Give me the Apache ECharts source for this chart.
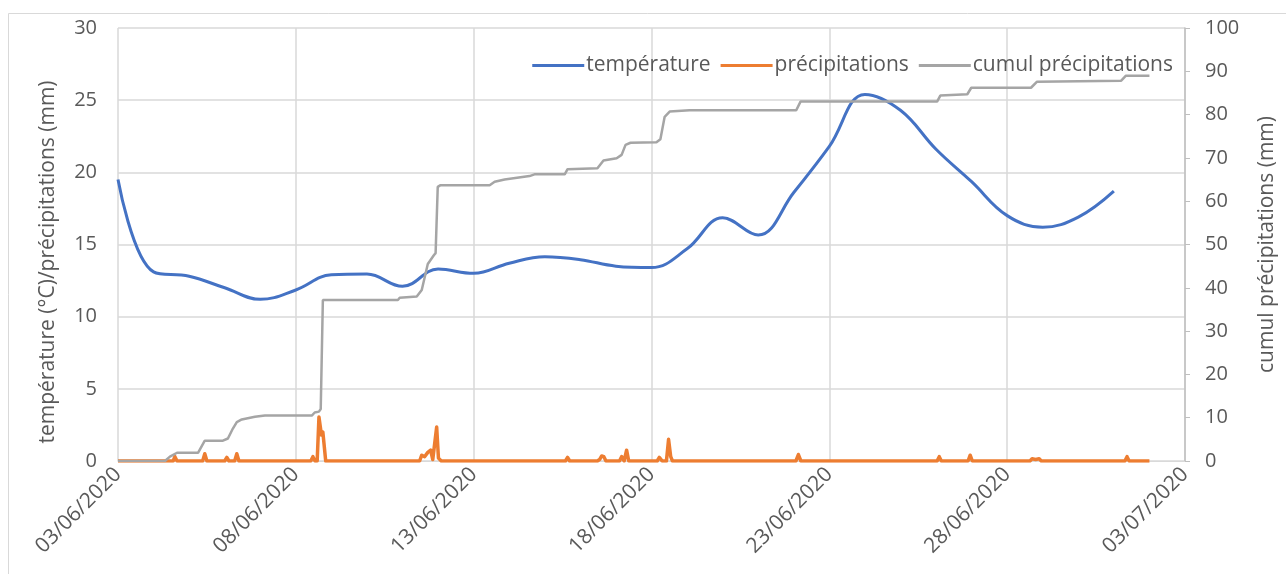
<!DOCTYPE html>
<html>
<head>
<meta charset="utf-8">
<script src="https://cdn.jsdelivr.net/npm/echarts@6/dist/echarts.min.js"></script>
<style>
  html, body { margin: 0; padding: 0; background: #fff; }
  #chart { width: 1286px; height: 574px; }
</style>
</head>
<body>
<div id="chart"></div>
<script>
// x values are days since 03/06/2020 00:00
const dateLabels = ['03/06/2020', '08/06/2020', '13/06/2020', '18/06/2020', '23/06/2020', '28/06/2020', '03/07/2020'];

// daily mean temperature (°C)
const tempDays = [0, 1, 2, 3, 4, 5, 6, 7, 8, 9, 10, 11, 12, 13, 14, 15, 16, 17, 18, 19, 20, 21, 22, 23, 24, 25, 26, 27, 28];
const tempC = [19.5, 13.1, 12.8, 12.0, 11.2, 11.85, 12.9, 12.95, 12.1, 13.3, 13.0, 13.7, 14.15, 13.95, 13.5, 13.4,
               14.7, 16.85, 15.65, 18.6, 21.8, 25.4, 24.3, 21.6, 19.35, 17.0, 16.2, 16.9, 18.7];

// precipitation (mm) : [day, mm]
const rain = [
  [0, 0], [1.55, 0], [1.60, 0.3], [1.66, 0], [2.38, 0], [2.44, 0.5], [2.50, 0],
  [3.00, 0], [3.06, 0.25], [3.12, 0], [3.28, 0], [3.34, 0.5], [3.40, 0], [3.67, 0], [3.71, 0.1], [3.75, 0],
  [3.95, 0], [3.99, 0.1], [4.03, 0], [5.42, 0], [5.48, 0.3], [5.54, 0], [5.60, 0], [5.65, 3.05], [5.72, 1.8],
  [5.76, 2.0], [5.84, 0], [7.88, 0], [7.92, 0.1], [7.96, 0], [8.48, 0], [8.54, 0.4], [8.62, 0.3], [8.71, 0.6],
  [8.79, 0.75], [8.85, 0.1], [8.90, 0], [8.96, 2.35], [9.01, 0.2], [9.04, 0.2], [9.09, 0],
  [9.90, 0], [9.94, 0.1], [9.98, 0], [10.41, 0], [10.45, 0.1], [10.49, 0], [11.11, 0], [11.15, 0.1], [11.19, 0],
  [11.53, 0], [11.57, 0.1], [11.61, 0], [12.58, 0], [12.64, 0.25], [12.70, 0], [13.48, 0], [13.54, 0.1],
  [13.60, 0.35], [13.66, 0.3], [13.72, 0], [13.92, 0], [13.96, 0.1], [14.00, 0], [14.10, 0], [14.16, 0.3],
  [14.23, 0], [14.30, 0.75], [14.36, 0], [14.48, 0], [14.52, 0.1], [14.56, 0], [15.16, 0], [15.22, 0.25],
  [15.30, 0], [15.42, 0], [15.48, 1.5], [15.54, 0.3], [15.59, 0], [16.25, 0], [16.29, 0.1], [16.33, 0],
  [19.06, 0], [19.13, 0.45], [19.20, 0], [23.03, 0], [23.09, 0.3], [23.15, 0], [23.56, 0], [23.60, 0.1],
  [23.64, 0], [23.90, 0], [23.96, 0.4], [24.02, 0], [25.64, 0], [25.70, 0.15], [25.80, 0.1], [25.90, 0.15],
  [25.96, 0], [28.31, 0], [28.37, 0.3], [28.43, 0], [29.0, 0]
];

// cumulative precipitation (mm) : [day, mm]
const cumul = [
  [0, 0], [1.32, 0], [1.46, 1.0], [1.66, 1.9], [2.25, 1.9], [2.44, 4.7], [2.95, 4.7], [3.09, 5.2],
  [3.23, 7.5], [3.34, 9.0], [3.48, 9.6], [3.85, 10.2], [4.13, 10.5], [5.45, 10.5], [5.53, 11.2],
  [5.65, 11.4], [5.70, 12.0], [5.76, 37.2], [7.87, 37.2], [7.92, 37.7], [8.40, 38.0], [8.54, 39.5],
  [8.71, 45.5], [8.88, 47.5], [8.93, 48.0], [8.99, 63.3], [9.07, 63.7], [10.45, 63.7], [10.59, 64.5],
  [10.87, 65.0], [11.57, 65.8], [11.71, 66.2], [12.56, 66.2], [12.64, 67.4], [13.48, 67.6], [13.65, 69.4],
  [14.02, 69.9], [14.16, 70.7], [14.27, 73.0], [14.41, 73.5], [15.14, 73.6], [15.25, 74.3], [15.37, 79.5],
  [15.51, 80.7], [16.07, 81.0], [19.07, 81.0], [19.19, 83.0], [23.03, 83.0], [23.12, 84.4], [23.88, 84.7],
  [23.99, 86.2], [25.67, 86.2], [25.84, 87.6], [28.20, 87.8], [28.34, 89.0], [29.0, 89.0]
];

const textColor = '#595959';
const gridColor = '#D9D9D9';
const font = '"Open Sans", sans-serif';

let chart = echarts.init(document.getElementById('chart'));
let option = {
    animation: false,
    backgroundColor: '#fff',
    graphic: [{
        type: 'rect',
        shape: { x: 8.5, y: 13.5, width: 1300, height: 600 },
        style: { fill: 'none', stroke: gridColor, lineWidth: 1 },
        silent: true
    }, {
        // left axis title, sits a bit below the plot centre like the original
        type: 'text',
        x: 48,
        y: 262,
        rotation: Math.PI / 2,
        style: {
            text: 'température (°C)/précipitations (mm)',
            fill: textColor,
            fontSize: 21,
            fontFamily: font,
            align: 'center',
            verticalAlign: 'middle'
        },
        silent: true
    }],
    legend: {
        right: 108,
        top: 50,
        itemWidth: 52,
        itemHeight: 3,
        itemGap: 10,
        icon: 'rect',
        textStyle: { color: textColor, fontSize: 21, fontFamily: font, padding: [0, 0, 0, -3] },
        data: ['température', 'précipitations', 'cumul précipitations']
    },
    grid: { left: 118, right: 101, top: 28, bottom: 113 },
    xAxis: {
        type: 'value',
        min: 0,
        max: 30,
        interval: 5,
        axisLine: { show: true, lineStyle: { color: gridColor, width: 1 } },
        axisTick: { show: false },
        splitLine: { show: true, lineStyle: { color: gridColor, width: 1.5 } },
        axisLabel: {
            rotate: 45,
            margin: 10,
            color: textColor,
            fontSize: 21,
            fontFamily: font,
            formatter: function (v) { return dateLabels[Math.round(v / 5)]; }
        }
    },
    yAxis: [{
        type: 'value',
        min: 0,
        max: 30,
        interval: 5,
        axisLine: { show: false },
        axisTick: { show: false },
        splitLine: { lineStyle: { color: gridColor, width: 1.5 } },
        axisLabel: { color: textColor, fontSize: 20, fontFamily: font, margin: 21 }
    }, {
        type: 'value',
        min: 0,
        max: 100,
        interval: 10,
        position: 'right',
        name: 'cumul précipitations (mm)',
        nameLocation: 'middle',
        nameGap: 72,
        nameRotate: 90,
        nameTextStyle: { color: textColor, fontSize: 21, fontFamily: font },
        axisLine: { show: true, lineStyle: { color: '#BFBFBF', width: 1.5 } },
        axisTick: { show: true, length: 5, lineStyle: { color: '#BFBFBF' } },
        splitLine: { show: false },
        axisLabel: { color: textColor, fontSize: 20, fontFamily: font, margin: 20 }
    }],
    series: [{
        name: 'température',
        type: 'line',
        yAxisIndex: 0,
        smooth: 0.4,
        showSymbol: false,
        lineStyle: { color: '#4472C4', width: 3 },
        itemStyle: { color: '#4472C4' },
        data: tempDays.map((d, i) => [d, tempC[i]])
    }, {
        name: 'précipitations',
        type: 'line',
        yAxisIndex: 0,
        showSymbol: false,
        lineStyle: { color: '#ED7D31', width: 3.5, join: 'round' },
        itemStyle: { color: '#ED7D31' },
        data: rain
    }, {
        name: 'cumul précipitations',
        type: 'line',
        yAxisIndex: 1,
        showSymbol: false,
        lineStyle: { color: '#A5A5A5', width: 2.5 },
        itemStyle: { color: '#A5A5A5' },
        data: cumul
    }]
};
chart.setOption(option);
</script>
</body>
</html>
